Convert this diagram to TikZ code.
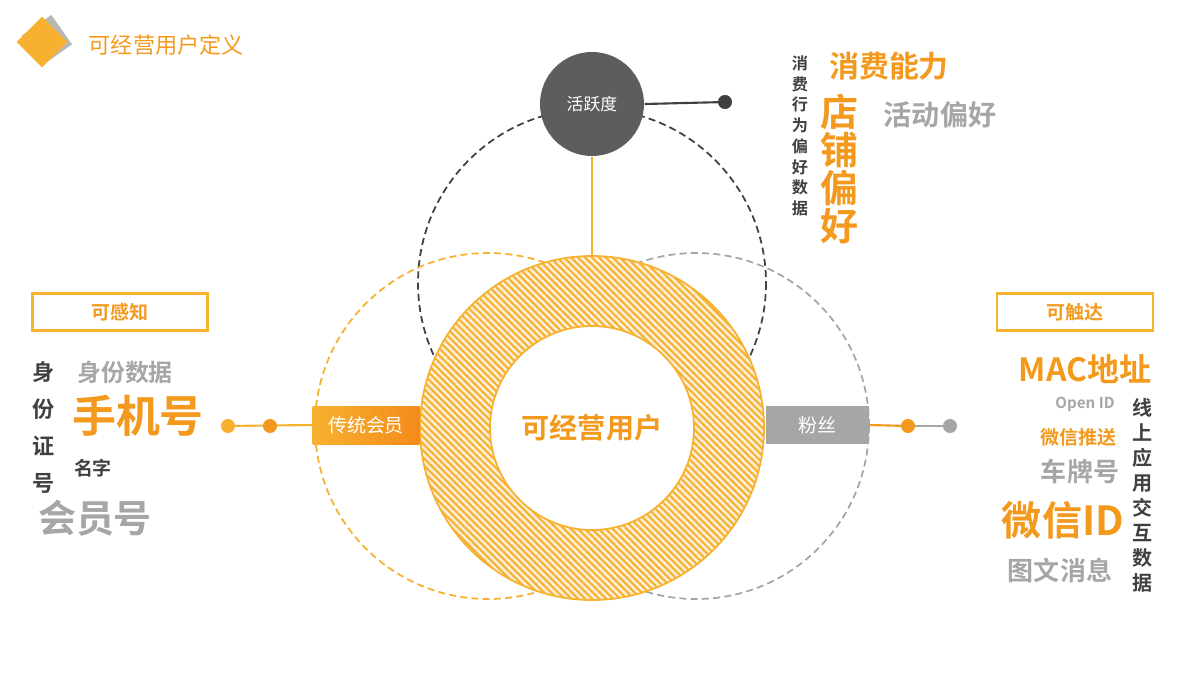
\documentclass[tikz,border=0pt]{standalone}
\usepackage{fontspec}
\setmainfont{Noto Sans CJK SC}
\newfontfamily\cjkb{Noto Sans CJK SC Bold}
\usetikzlibrary{patterns.meta}
\definecolor{org}{HTML}{F39A1E}
\definecolor{org2}{HTML}{F7B12F}
\definecolor{dk}{HTML}{404040}
\definecolor{gr}{HTML}{A6A6A6}
\tikzset{
  fz/.style={font=\cjkb\fontsize{#1pt}{#1pt}\selectfont},
  lbl/.style={inner sep=0pt},
  dot/.style={circle, fill=#1, inner sep=0pt, minimum size=4pt},
  vert/.style={align=center, inner sep=0pt},
  dsh/.style={dash pattern=on 2pt off 1.2pt, line width=0.5pt}
}
\begin{document}
\begin{tikzpicture}[x=0.01cm,y=-0.01cm]
\useasboundingbox (0,0) rectangle (1200,675);
% logo
\fill[gr!80, rotate around={35:(47,40)}] (29,22) rectangle (65,58);
\fill[org2, rotate around={45:(42,42)}] (24,24) rectangle (60,60);
\node[lbl, text=org, anchor=west, font=\fontsize{6.3pt}{7pt}\selectfont] (title) at (88,45) {可经营用户定义};
% circles
\draw[dk, dsh] (592,283) circle (174);
\draw[org2, dsh] (488,426) circle (173);
\draw[gr, dsh] (696,426) circle (173);
% ring
\fill[white] (592,428) circle (172);
\fill[org2!20, even odd rule] (592,428) circle (172) (592,428) circle (102);
\fill[pattern={Lines[distance=1.4pt, angle=-45, line width=0.6pt]}, pattern color=org2, even odd rule] (592,428) circle (172) (592,428) circle (102);
\draw[org2, line width=0.5pt] (592,428) circle (172) (592,428) circle (102);
\node[lbl, text=org, fz=8] (center) at (592,428) {可经营用户};
% activity
\node[circle, fill=dk!85, minimum size=104*0.01cm, inner sep=0pt, text=white, font=\fontsize{4.8pt}{5pt}\selectfont] (act) at (592,104) {活跃度};
\coordinate (actend) at (725,102);
\draw[dk, line width=0.6pt] (act.east) -- (actend);
\node[dot=dk] at (actend) {};
\coordinate (ringtop) at (592,256);
\draw[org2, line width=0.6pt] (act.south) -- (ringtop);
% side boxes
\node[left color=org2, right color=org!90!red, minimum width=107*0.01cm, minimum height=38*0.01cm, inner sep=0pt, text=white, font=\fontsize{5.4pt}{6pt}\selectfont] (vip) at (366,425) {传统会员};
\node[fill=gr, minimum width=103*0.01cm, minimum height=38*0.01cm, inner sep=0pt, text=white, font=\fontsize{5.4pt}{6pt}\selectfont] (fan) at (817,425) {粉丝};
\coordinate (lend) at (228,426);
\coordinate (lmid) at (270,426);
\draw[org2, line width=0.6pt] (vip.west) -- (lend);
\node[dot=org2] at (lend) {};
\node[dot=org] at (lmid) {};
\coordinate (rend) at (950,426);
\coordinate (rmid) at (908,426);
\draw[org, line width=0.6pt] (fan.east) -- (rmid);
\draw[gr, line width=0.6pt] (rmid) -- (rend);
\node[dot=org] at (rmid) {};
\node[dot=gr] at (rend) {};
% header boxes
\node[draw=org2, line width=0.8pt, minimum width=175*0.01cm, minimum height=37*0.01cm, inner sep=0pt, text=org, fz=5.4] (perc) at (120,312) {可感知};
\node[draw=org2, line width=0.8pt, minimum width=156*0.01cm, minimum height=37*0.01cm, inner sep=0pt, text=org, fz=5.4] (reach) at (1075,312) {可触达};
% left cloud
\node[vert, text=dk, fz=6.3, anchor=north] (idno) at (44,361) {身\\[4.2pt]份\\[4.2pt]证\\[4.2pt]号};
\node[lbl, text=gr, fz=6.8] (iddata) at (125,372) {身份数据};
\node[lbl, text=org, fz=12.5] (phone) at (138,416) {手机号};
\node[lbl, text=dk, fz=5.4] (name) at (93,468) {名字};
\node[lbl, text=gr, fz=10.8] (member) at (95,518) {会员号};
% top cloud
\node[vert, text=dk, anchor=north, fz=4.6] (consume) at (800,55) {消\\[1.3pt]费\\[1.3pt]行\\[1.3pt]为\\[1.3pt]偏\\[1.3pt]好\\[1.3pt]数\\[1.3pt]据};
\node[lbl, text=org, fz=8.5] (ability) at (889,66) {消费能力};
\node[vert, text=org, anchor=north, fz=10.8] (shop) at (839,94) {店\\[0pt]铺\\[0pt]偏\\[0pt]好};
\node[lbl, text=gr, fz=8] (actpref) at (940,115) {活动偏好};
% right cloud
\node[vert, text=dk, anchor=north, fz=5.7] (online) at (1143,398) {线\\[1.4pt]上\\[1.4pt]应\\[1.4pt]用\\[1.4pt]交\\[1.4pt]互\\[1.4pt]数\\[1.4pt]据};
\node[lbl, text=org, fz=9.1] (mac) at (1085,369) {MAC地址};
\node[lbl, text=gr, fz=4.3] (openid) at (1085,404) {Open ID};
\node[lbl, text=org, fz=5.4] (push) at (1078,437) {微信推送};
\node[lbl, text=gr, fz=7.4] (plate) at (1080,472) {车牌号};
\node[lbl, text=org, fz=11.4] (wxid) at (1063,520) {微信ID};
\node[lbl, text=gr, fz=7.4] (msg) at (1060,570) {图文消息};
\end{tikzpicture}
\end{document}
